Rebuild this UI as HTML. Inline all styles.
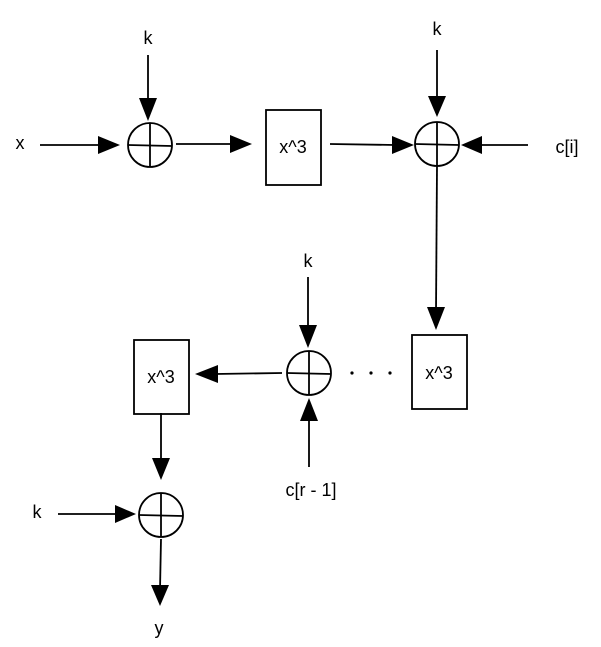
<!DOCTYPE html>
<html><head><meta charset="utf-8"><style>html,body{margin:0;padding:0;background:#fff}svg{display:block}</style></head>
<body>
<svg width="601" height="647" viewBox="0 0 601 647" xmlns="http://www.w3.org/2000/svg">
<rect width="601" height="647" fill="#fff"/>
<g stroke="#000" stroke-width="1.8" fill="none">
<line x1="40" y1="145" x2="105" y2="145"/>
<line x1="148" y1="55" x2="148" y2="102"/>
<line x1="176" y1="144" x2="232" y2="144"/>
<line x1="330" y1="144" x2="395" y2="145"/>
<line x1="437" y1="50" x2="437" y2="100"/>
<line x1="528" y1="145" x2="478" y2="145"/>
<line x1="437" y1="166" x2="436" y2="312"/>
<line x1="308" y1="277" x2="308" y2="330"/>
<line x1="282" y1="373" x2="215" y2="374"/>
<line x1="309" y1="467" x2="309" y2="418"/>
<line x1="161" y1="413" x2="161" y2="462"/>
<line x1="58" y1="514" x2="118" y2="514"/>
<line x1="161" y1="539" x2="160" y2="590"/>
<circle cx="150" cy="145" r="22"/>
<line x1="128" y1="145" x2="172" y2="146"/><line x1="150" y1="123" x2="150" y2="167"/>
<circle cx="437" cy="144" r="22"/>
<line x1="415" y1="144" x2="459" y2="145"/><line x1="437" y1="122" x2="437" y2="166"/>
<circle cx="309" cy="373" r="22"/>
<line x1="287" y1="373" x2="331" y2="374"/><line x1="309" y1="351" x2="309" y2="395"/>
<circle cx="161" cy="515" r="22"/>
<line x1="139" y1="515" x2="183" y2="516"/><line x1="161" y1="493" x2="161" y2="537"/>
<rect x="266" y="110" width="55" height="75"/>
<rect x="412" y="335" width="55" height="74"/>
<rect x="134" y="340" width="55" height="74"/>
</g>
<g fill="#000">
<polygon points="98,136 120,145 98,154"/>
<polygon points="139,98 157,98 148,121"/>
<polygon points="230,135 252,144 230,153"/>
<polygon points="392,136 414,145 392,154"/>
<polygon points="428,96 446,96 437,117"/>
<polygon points="482,136 461,145 482,154"/>
<polygon points="427,307 445,307 436,330"/>
<polygon points="299,325 317,325 308,348"/>
<polygon points="218,365 195,374 218,383"/>
<polygon points="300,421 318,421 309,398"/>
<polygon points="152,458 170,458 161,480"/>
<polygon points="115,505 136,514 115,523"/>
<polygon points="151,585 169,585 160,606"/>
<circle cx="352" cy="373" r="1.6"/><circle cx="371" cy="373" r="1.6"/><circle cx="390" cy="373" r="1.6"/>
</g>
<g font-family="Liberation Sans, sans-serif" font-size="18" fill="#000" text-anchor="middle">
<text x="20" y="149">x</text>
<text x="148" y="44">k</text>
<text x="437" y="35">k</text>
<text x="293" y="153">x^3</text>
<text x="567" y="153">c[i]</text>
<text x="308" y="267">k</text>
<text x="439" y="379">x^3</text>
<text x="161" y="383">x^3</text>
<text x="311" y="496">c[r - 1]</text>
<text x="37" y="518">k</text>
<text x="159" y="634">y</text>
</g>
</svg>
</body></html>
